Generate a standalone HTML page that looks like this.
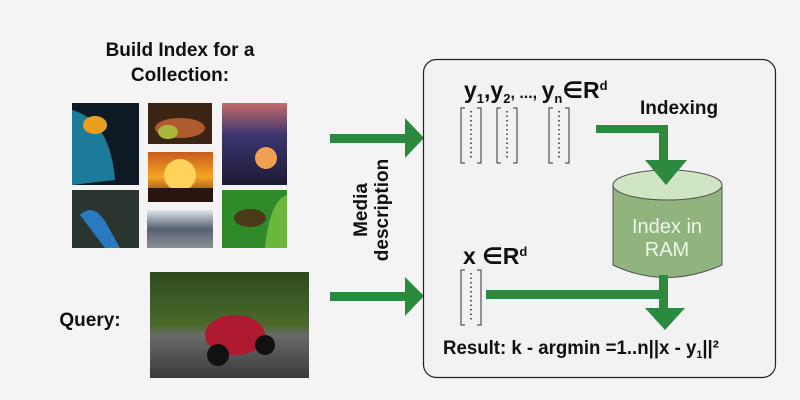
<!DOCTYPE html>
<html><head><style>
body{margin:0;background:#f4f4f4;}
svg{display:block}
text{font-family:"Liberation Sans","DejaVu Sans",sans-serif;font-weight:bold;fill:#111}
</style></head><body>
<svg width="800" height="400" viewBox="0 0 800 400">
<defs>
<linearGradient id="sun" x1="0" y1="0" x2="0" y2="1"><stop offset="0" stop-color="#c85a1e"/><stop offset=".5" stop-color="#f5a623"/><stop offset="1" stop-color="#6a1a10"/></linearGradient>
<linearGradient id="mt" x1="0" y1="0" x2="0" y2="1"><stop offset="0" stop-color="#c46a6a"/><stop offset=".4" stop-color="#3a3570"/><stop offset="1" stop-color="#1d1a33"/></linearGradient>
<linearGradient id="moto" x1="0" y1="0" x2="0" y2="1"><stop offset="0" stop-color="#2e4a1e"/><stop offset=".5" stop-color="#4a6a2a"/><stop offset=".6" stop-color="#6a6a6a"/><stop offset="1" stop-color="#3a3a3a"/></linearGradient>
<linearGradient id="road" x1="0" y1="0" x2="0" y2="1"><stop offset="0" stop-color="#dfe6ee"/><stop offset=".5" stop-color="#556070"/><stop offset="1" stop-color="#8a8f95"/></linearGradient>
</defs>
<rect width="800" height="400" fill="#f4f4f4"/>
<text x="180" y="56" font-size="19" text-anchor="middle">Build Index for a</text>
<text x="180" y="81" font-size="19" text-anchor="middle">Collection:</text>
<text x="90" y="326" font-size="19" text-anchor="middle">Query:</text>
<rect x="72" y="103" width="67" height="82" fill="#0d1a24"/>
<path d="M72 110 Q110 120 115 180 L72 185Z" fill="#1c7a9a"/>
<ellipse cx="95" cy="125" rx="12" ry="9" fill="#e8a020"/>
<rect x="148" y="103" width="64" height="41" fill="#3a2414"/>
<ellipse cx="180" cy="128" rx="25" ry="10" fill="#b05a30"/>
<ellipse cx="168" cy="132" rx="10" ry="7" fill="#a8b83a"/>
<rect x="222" y="103" width="65" height="82" fill="url(#mt)"/>
<circle cx="266" cy="158" r="11" fill="#f0a050"/>
<rect x="148" y="152" width="65" height="50" fill="url(#sun)"/>
<circle cx="180" cy="175" r="16" fill="#ffd25a"/>
<rect x="148" y="188" width="65" height="14" fill="#2a1410"/>
<rect x="72" y="190" width="67" height="58" fill="#2a3530"/>
<path d="M80 215 Q95 200 110 230 L120 248 L105 248Z" fill="#2a7ac0"/>
<rect x="147" y="210" width="66" height="38" fill="url(#road)"/>
<rect x="222" y="190" width="65" height="58" fill="#2f8a2a"/>
<ellipse cx="250" cy="218" rx="16" ry="9" fill="#4a3a1a"/>
<path d="M265 248 Q270 200 287 195 L287 248Z" fill="#6ab83a"/>
<rect x="150" y="272" width="159" height="106" fill="url(#moto)"/>
<ellipse cx="235" cy="335" rx="30" ry="20" fill="#b01a30"/>
<circle cx="218" cy="355" r="11" fill="#111"/>
<circle cx="265" cy="345" r="10" fill="#111"/>
<g fill="#2b8a3e">
<rect x="330" y="134" width="76" height="9"/><polygon points="405,118 424,138 405,158"/>
<rect x="330" y="292" width="76" height="9"/><polygon points="405,277 424,296 405,316"/>
</g>
<text transform="translate(367,210) rotate(-90)" font-size="19" text-anchor="middle">Media</text>
<text transform="translate(388,210) rotate(-90)" font-size="19" text-anchor="middle">description</text>
<rect x="423.5" y="59.5" width="352" height="318" rx="13" fill="#f2f2f2" stroke="#222" stroke-width="1.2"/>
<text x="464" y="98" font-size="23" style="font-weight:600">y<tspan font-size="13" dy="5">1</tspan><tspan dy="-5">,y</tspan><tspan font-size="13" dy="5">2</tspan><tspan dy="-5" font-size="16">, ..., </tspan>y<tspan font-size="13" dy="5">n</tspan><tspan dy="-5">∈R</tspan><tspan font-size="13" dy="-8">d</tspan></text>
<text x="640" y="114" font-size="19">Indexing</text>
<g stroke="#333" stroke-width="1" fill="none">
<path d="M465 108h-4v55h4M477 108h4v55h-4"/>
<path d="M501 108h-4v55h4M513 108h4v55h-4"/>
<path d="M553 108h-4v55h4M565 108h4v55h-4"/>
<path d="M465 270h-4v55h4M477 270h4v55h-4"/>
</g>
<g stroke="#333" stroke-width="1.5" stroke-dasharray="1.5 3">
<line x1="471" y1="111" x2="471" y2="160"/><line x1="507" y1="111" x2="507" y2="160"/><line x1="559" y1="111" x2="559" y2="160"/><line x1="471" y1="273" x2="471" y2="322"/>
</g>
<text x="463" y="264" font-size="23" style="font-weight:600">x ∈R<tspan font-size="13" dy="-8">d</tspan></text>
<path d="M613 185 L613 265 Q665 290 722 265 L722 185Z" fill="#8fb47e" stroke="#555" stroke-width="1"/>
<ellipse cx="667.5" cy="185" rx="54.5" ry="15" fill="#cfe5c3" stroke="#555" stroke-width="1"/>
<text x="667" y="233" font-size="20" style="fill:#eef6ea;font-weight:normal" text-anchor="middle">Index in</text>
<text x="667" y="256" font-size="20" style="fill:#eef6ea;font-weight:normal" text-anchor="middle">RAM</text>
<g fill="#2b8a3e">
<polygon points="596,125 668,125 668,160 687,160 666,185 645,160 659,160 659,133 596,133"/>
<rect x="486" y="290" width="180" height="9"/>
<rect x="659" y="275" width="9" height="35"/>
<polygon points="645,308 685,308 665,330"/>
</g>
<text x="443" y="354" font-size="19" textLength="276" lengthAdjust="spacingAndGlyphs">Result: <tspan style="font-weight:600">k - argmin =1..n||x - y</tspan><tspan font-size="11" dy="4">1</tspan><tspan dy="-4">||²</tspan></text>
</svg>
</body></html>
